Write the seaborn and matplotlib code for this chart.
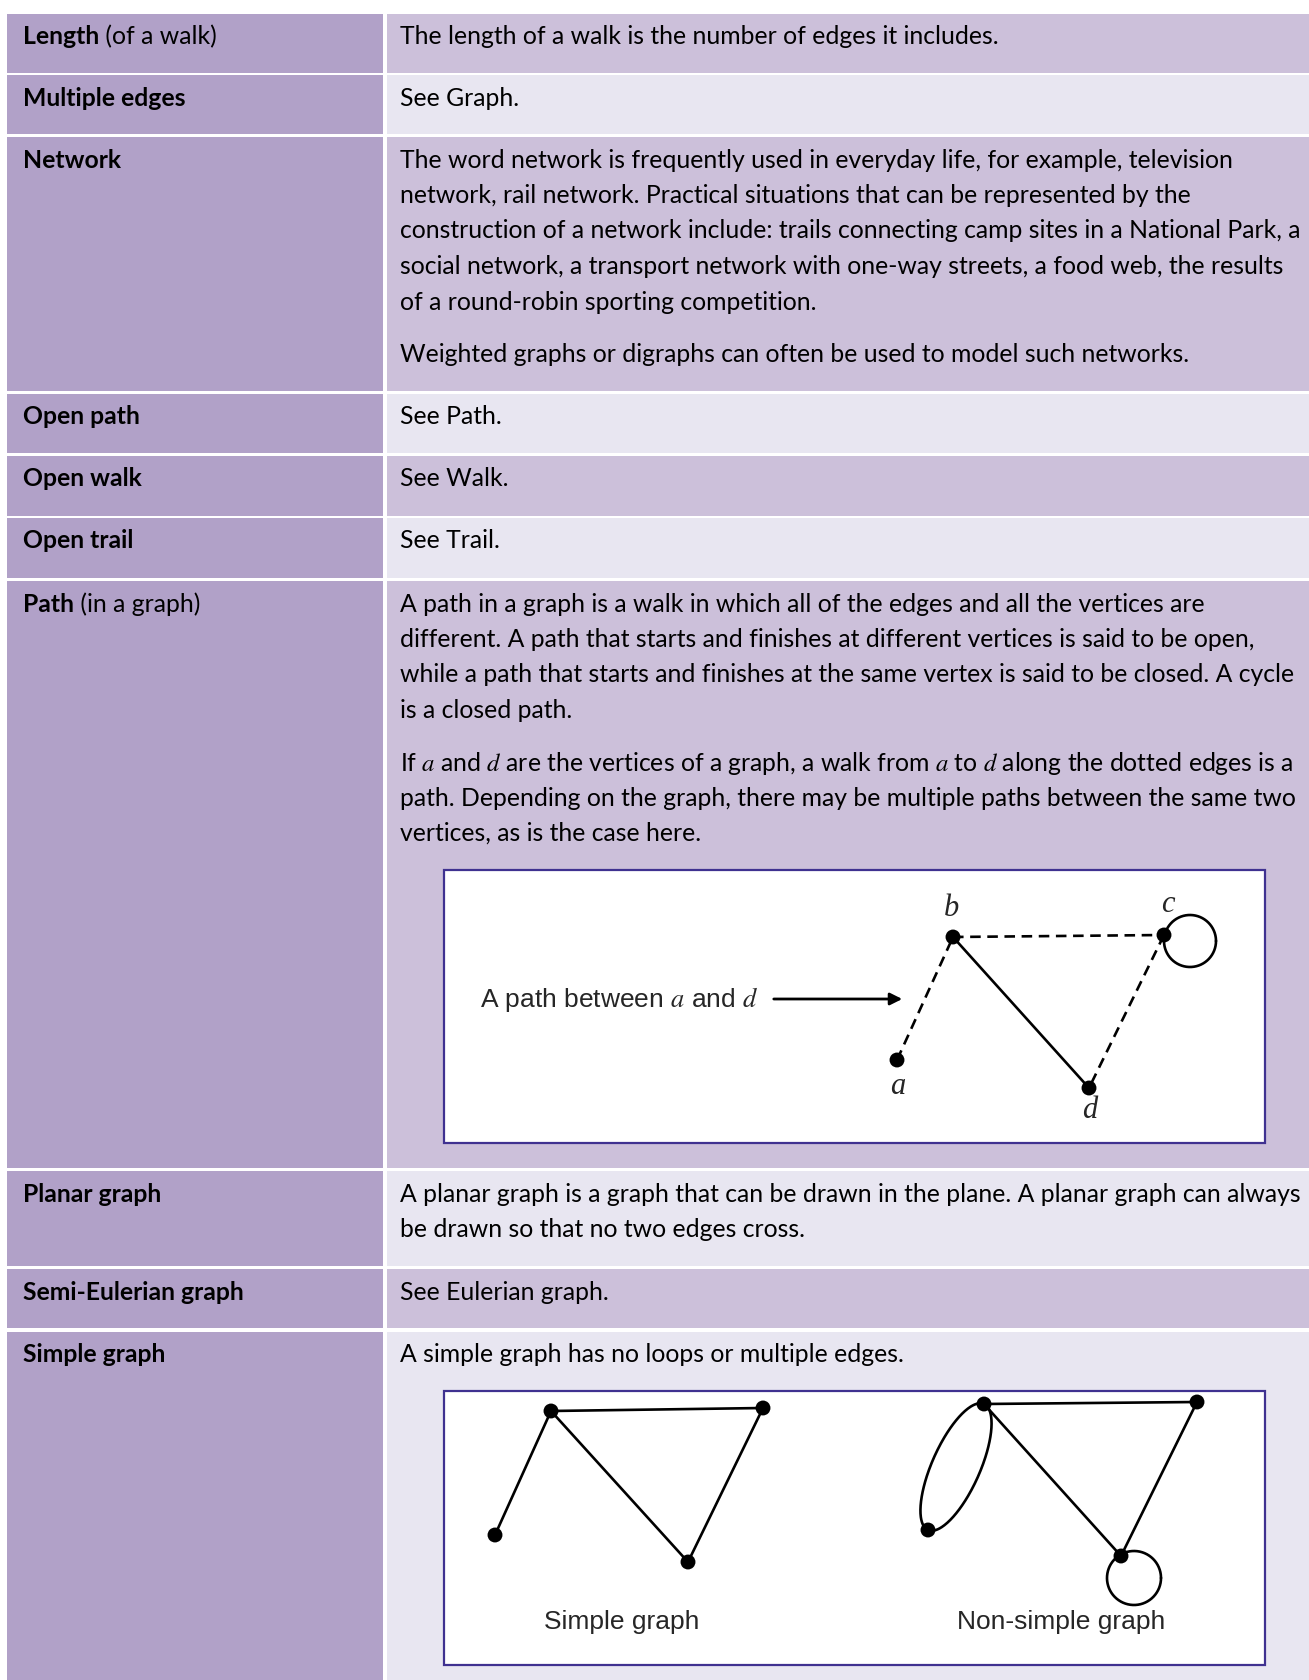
import matplotlib
matplotlib.use("Agg")
import numpy as np
import pandas as pd
import matplotlib.pyplot as plt
import seaborn as sns
from matplotlib.patches import Rectangle

# Glossary content
term_bold = ["Length", "Multiple edges", "Network", "Open path", "Open walk",
             "Open trail", "Path", "Planar graph", "Semi-Eulerian graph", "Simple graph"]
term_extra = [" (of a walk)", "", "", "", "", "", " (in a graph)", "", "", ""]

definitions = [
    [["The length of a walk is the number of edges it includes."]],
    [["See Graph."]],
    [["The word network is frequently used in everyday life, for example, television",
      "network, rail network. Practical situations that can be represented by the",
      "construction of a network include: trails connecting camp sites in a National Park, a",
      "social network, a transport network with one-way streets, a food web, the results",
      "of a round-robin sporting competition."],
     ["Weighted graphs or digraphs can often be used to model such networks."]],
    [["See Path."]],
    [["See Walk."]],
    [["See Trail."]],
    [["A path in a graph is a walk in which all of the edges and all the vertices are",
      "different. A path that starts and finishes at different vertices is said to be open,",
      "while a path that starts and finishes at the same vertex is said to be closed. A cycle",
      "is a closed path."],
     ["If $a$ and $d$ are the vertices of a graph, a walk from $a$ to $d$ along the dotted edges is a",
      "path. Depending on the graph, there may be multiple paths between the same two",
      "vertices, as is the case here."]],
    [["A planar graph is a graph that can be drawn in the plane. A planar graph can always",
      "be drawn so that no two edges cross."]],
    [["See Eulerian graph."]],
    [["A simple graph has no loops or multiple edges."]],
]

# Path diagram (vertex positions)
path_labels = ["a", "b", "c", "d"]
path_x = [897, 953, 1164, 1089]
path_y = [1060, 937, 935, 1088]
path_edges = [("a", "b", "dashed"), ("b", "c", "dashed"), ("c", "d", "dashed"), ("b", "d", "solid")]

# Simple / non-simple graphs
simple_x = [551, 763, 495, 688]
simple_y = [1411, 1408, 1535, 1562]
simple_edges = [(0, 1), (0, 2), (0, 3), (3, 1)]
nonsimple_x = [984, 1197, 928, 1121]
nonsimple_y = [1404, 1402, 1530, 1556]
nonsimple_edges = [(0, 1), (0, 3), (3, 1)]

# table layout (pixels)
row_top = [14, 75, 137, 394, 456, 518, 581, 1171, 1269, 1332]
row_bot = [73, 134, 391, 453, 516, 578, 1168, 1266, 1328, 1680]
LEFT_COL = (7, 383)
RIGHT_COL = (387, 1309)
C_LEFT = "#b1a1c8"
C_DARK = "#ccc0da"
C_LIGHT = "#e8e6f1"
C_BORDER = "#3f3190"
BODY_FS = 17.8
LINE_H = 35.5
PARA_H = 52
LW = 1.9

sns.set_theme(style="white")
plt.rcParams["font.family"] = ["Lato", "DejaVu Sans"]
plt.rcParams["mathtext.fontset"] = "stix"

fig = plt.figure(figsize=(13.09, 16.80), dpi=100)
ax = fig.add_axes([0, 0, 1, 1])
ax.set_xlim(0, 1309)
ax.set_ylim(1680, 0)
ax.axis("off")

renderer = fig.canvas.get_renderer()

for i in range(len(term_bold)):
    top, bot = row_top[i], row_bot[i]
    ax.add_patch(Rectangle((LEFT_COL[0], top), LEFT_COL[1] - LEFT_COL[0], bot - top,
                           facecolor=C_LEFT, edgecolor="none"))
    ax.add_patch(Rectangle((RIGHT_COL[0], top), RIGHT_COL[1] - RIGHT_COL[0], bot - top,
                           facecolor=C_DARK if i % 2 == 0 else C_LIGHT, edgecolor="none"))
    y0 = top + 21
    t = ax.text(23, y0, term_bold[i], fontsize=BODY_FS, fontweight="bold",
                va="center_baseline", ha="left", color="black")
    if term_extra[i]:
        bb = t.get_window_extent(renderer)
        x_end = ax.transData.inverted().transform((bb.x1, 0))[0]
        ax.text(x_end, y0, term_extra[i], fontsize=BODY_FS, va="center_baseline",
                ha="left", color="black")
    y = y0
    for p, para in enumerate(definitions[i]):
        if p > 0:
            y += PARA_H - LINE_H
        for line in para:
            ax.text(400, y, line, fontsize=BODY_FS, va="center_baseline", ha="left",
                    color="black")
            y += LINE_H


def ring(cx, cy, r):
    t = np.linspace(0, 2 * np.pi, 200)
    ax.plot(cx + r * np.cos(t), cy + r * np.sin(t), color="black", lw=LW)


# Path diagram
ax.add_patch(Rectangle((444, 870), 821, 273, facecolor="white", edgecolor=C_BORDER, lw=1.6))
pos = {k: (x, y) for k, x, y in zip(path_labels, path_x, path_y)}
for u, v, style in path_edges:
    (x1, y1), (x2, y2) = pos[u], pos[v]
    ax.plot([x1, x2], [y1, y2], color="black", lw=LW,
            linestyle=(0, (4, 2.5)) if style == "dashed" else "-")
ring(1190, 941, 26)
path_df = pd.DataFrame({"x": path_x, "y": path_y})
sns.scatterplot(data=path_df, x="x", y="y", s=115, color="black", edgecolor="none", ax=ax, zorder=5)
label_off = {"a": (1, 26), "b": (-2, -28), "c": (4, -30), "d": (1, 22)}
for k in path_labels:
    dx, dy = label_off[k]
    ax.text(pos[k][0] + dx, pos[k][1] + dy, k, fontsize=22, family="Liberation Serif",
            style="italic", ha="center", va="center")
ax.text(480, 1000, "A path between $a$ and $d$", fontsize=19, family="Liberation Sans",
        ha="left", va="center")
ax.annotate("", xy=(905, 999), xytext=(771, 999),
            arrowprops=dict(arrowstyle="-|>", lw=2.0, color="black", mutation_scale=18))

# Simple and non-simple graphs
ax.add_patch(Rectangle((444, 1391), 821, 274, facecolor="white", edgecolor=C_BORDER, lw=1.6))
for xs, ys, edges in [(simple_x, simple_y, simple_edges), (nonsimple_x, nonsimple_y, nonsimple_edges)]:
    for u, v in edges:
        ax.plot([xs[u], xs[v]], [ys[u], ys[v]], color="black", lw=LW)
# multiple edges drawn as an ellipse through two vertices
p0 = np.array([nonsimple_x[0], nonsimple_y[0]], float)
p2 = np.array([nonsimple_x[2], nonsimple_y[2]], float)
cen = (p0 + p2) / 2
u_ax = (p0 - p2) / np.linalg.norm(p0 - p2)
v_ax = np.array([-u_ax[1], u_ax[0]])
a_len = np.linalg.norm(p0 - p2) / 2
tt = np.linspace(0, 2 * np.pi, 300)
ell = cen[:, None] + a_len * np.cos(tt) * u_ax[:, None] + 24 * np.sin(tt) * v_ax[:, None]
ax.plot(ell[0], ell[1], color="black", lw=LW)
ring(1134, 1578, 27)
graph_df = pd.DataFrame({"x": simple_x + nonsimple_x, "y": simple_y + nonsimple_y})
sns.scatterplot(data=graph_df, x="x", y="y", s=115, color="black", edgecolor="none", ax=ax, zorder=5)
ax.text(622, 1622, "Simple graph", fontsize=19, family="Liberation Sans", ha="center", va="center")
ax.text(1061, 1622, "Non-simple graph", fontsize=19, family="Liberation Sans", ha="center", va="center")

ax.set_xlim(0, 1309)
ax.set_ylim(1680, 0)
ax.set_xlabel("")
ax.set_ylabel("")
fig.savefig("out.png", dpi=100, facecolor="white")
